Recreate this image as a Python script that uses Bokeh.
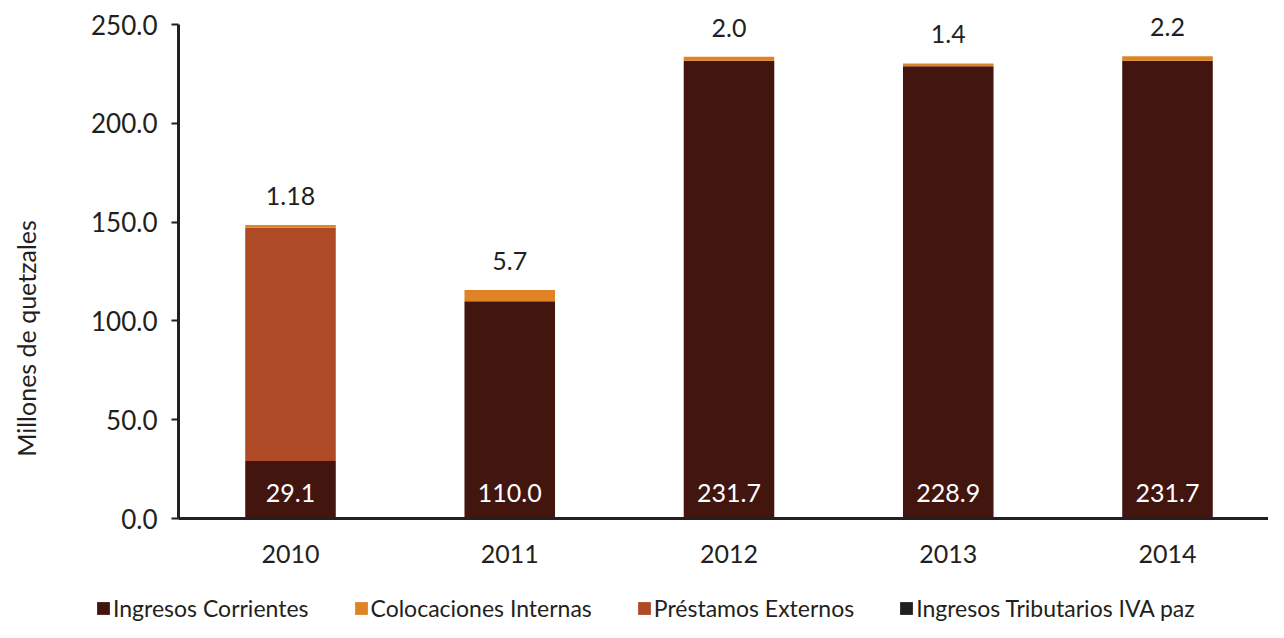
import math
from bokeh.plotting import figure
from bokeh.models import (ColumnDataSource, Range1d, FixedTicker, Label,
                          PrintfTickFormatter, LabelSet, Legend, LegendItem)
from bokeh.core.properties import value
from bokeh.embed import file_html
from bokeh.resources import INLINE

# ---- data ----
years = ["2010", "2011", "2012", "2013", "2014"]
ingresos_corrientes = [29.1, 110.0, 231.7, 228.9, 231.7]
prestamos_externos = [118.2, 0.0, 0.0, 0.0, 0.0]
colocaciones_internas = [1.18, 5.7, 2.0, 1.4, 2.2]
ingresos_iva_paz = [0.0, 0.0, 0.0, 0.0, 0.0]
colocaciones_text = ["1.18", "5.7", "2.0", "1.4", "2.2"]
ingresos_text = ["29.1", "110.0", "231.7", "228.9", "231.7"]
y_ticks = [0, 50, 100, 150, 200, 250]
y_title = "Millones de quetzales"

series_names = ["Ingresos Corrientes", "Préstamos Externos",
                "Colocaciones Internas", "Ingresos Tributarios IVA paz"]
keys = ["ic", "pe", "ci", "iva"]
colors = ["#42150f", "#ae4a25", "#e08326", "#231f20"]

idx = list(range(len(years)))
totals = [a + b + c + d for a, b, c, d in zip(ingresos_corrientes, prestamos_externos,
                                               colocaciones_internas, ingresos_iva_paz)]
zeros = [0.0] * len(years)

src = ColumnDataSource(dict(x=idx, ic=ingresos_corrientes, pe=prestamos_externos,
                            ci=colocaciones_internas, iva=ingresos_iva_paz,
                            top=totals, zero=zeros,
                            ctext=colocaciones_text, itext=ingresos_text))

FONT = "Lato"
TXT = "#231f20"

# layout geometry (pixels) -> ranges so that the frame fills the whole figure
W, H = 1268, 622
PX_X = 219.25          # pixels per category
X0_PX = 290            # pixel of first category centre
YAX_PX = 178           # pixel of y axis line
PX_Y = 494 / 250.0     # pixels per unit
Y0_PX = 518            # pixel of y=0 (from top)

x_start = -X0_PX / PX_X
x_end = (W - X0_PX) / PX_X
y_end = Y0_PX / PX_Y
y_start = -(H - Y0_PX) / PX_Y
x_axis_pos = (YAX_PX - X0_PX) / PX_X

p = figure(x_range=Range1d(x_start, x_end), y_range=Range1d(y_start, y_end),
           width=W, height=H, output_backend="svg", toolbar_location=None,
           min_border=0, min_border_left=0, min_border_right=0,
           min_border_top=0, min_border_bottom=0)

renderers = p.vbar_stack(keys, x="x", width=0.413, color=colors, line_color=None,
                         source=src)

# labels
top_labels = LabelSet(x="x", y="top", text="ctext", source=src, y_offset=29,
                      text_align="center", text_baseline="middle",
                      text_font=value(FONT), text_font_size="25px", text_color=TXT)
inner_labels = LabelSet(x="x", y="zero", text="itext", source=src, y_offset=26,
                        text_align="center", text_baseline="middle",
                        text_font=value(FONT), text_font_size="25px", text_color="white")
p.add_layout(top_labels)
p.add_layout(inner_labels)

# y axis title (as a rotated label, centred like the reference)
title_lbl = Label(x=25, y=H - 338, x_units="screen", y_units="screen", text=y_title,
                  angle=math.pi / 2, text_align="center", text_baseline="middle",
                  text_font=FONT, text_font_size="25px", text_color=TXT)
p.add_layout(title_lbl)

# axes
p.xgrid.grid_line_color = None
p.ygrid.grid_line_color = None
p.outline_line_color = None
p.background_fill_color = "white"
p.border_fill_color = "white"

p.yaxis.fixed_location = x_axis_pos
p.yaxis.bounds = (0, 250)
p.yaxis.ticker = FixedTicker(ticks=y_ticks)
p.yaxis.formatter = PrintfTickFormatter(format="%.1f")
p.yaxis.axis_line_width = 3
p.yaxis.axis_line_color = TXT
p.yaxis.major_tick_line_width = 2
p.yaxis.major_tick_line_color = TXT
p.yaxis.major_tick_out = 7
p.yaxis.major_tick_in = 0
p.yaxis.minor_tick_line_color = None
p.yaxis.major_label_standoff = 14
p.yaxis.major_label_text_font = FONT
p.yaxis.major_label_text_font_size = "26px"
p.yaxis.major_label_text_color = TXT

p.xaxis.fixed_location = 0
p.xaxis.bounds = (x_axis_pos, x_end)
p.xaxis.ticker = FixedTicker(ticks=idx)
p.xaxis.major_label_overrides = {i: y for i, y in zip(idx, years)}
p.xaxis.axis_line_width = 3
p.xaxis.axis_line_color = TXT
p.xaxis.major_tick_line_color = None
p.xaxis.minor_tick_line_color = None
p.xaxis.major_label_standoff = 20
p.xaxis.major_label_text_font = FONT
p.xaxis.major_label_text_font_size = "25px"
p.xaxis.major_label_text_color = TXT

# legend (order as in reference)
order = [0, 2, 1, 3]
items = [LegendItem(label=series_names[i], renderers=[renderers[i]]) for i in order]
legend = Legend(items=items, orientation="horizontal", location=(95, 0),
                glyph_width=16, glyph_height=16, label_standoff=2, spacing=44,
                padding=0, margin=0, border_line_color=None,
                background_fill_alpha=0, label_text_font=FONT,
                label_text_font_size="23px", label_text_color=TXT)
p.add_layout(legend, "center")

open("out.html", "w").write(file_html(p, INLINE))
